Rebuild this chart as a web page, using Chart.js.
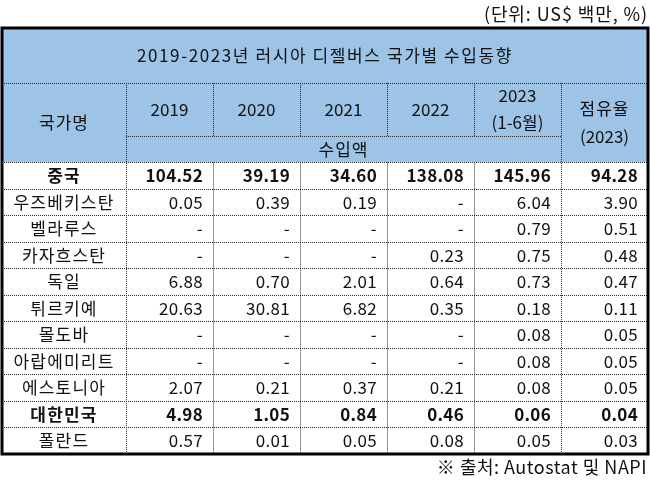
<!DOCTYPE html>
<html>
<head>
<meta charset="utf-8">
<script src="https://cdn.jsdelivr.net/npm/chart.js@4"></script>
<style>
  html, body { margin: 0; padding: 0; background: #fff; }
  #wrap { width: 650px; height: 485px; }
</style>
</head>
<body>
<div id="wrap"><canvas id="tbl"></canvas></div>
<script>
var tableTitle = "2019-2023년 러시아 디젤버스 국가별 수입동향";
var unitText = "(단위: US$ 백만, %)";
var sourceText = "※ 출처: Autostat 및 NAPI";
var nameHeader = "국가명";
var yearHeaders = [["2019"], ["2020"], ["2021"], ["2022"], ["2023", "(1-6월)"]];
var amountHeader = "수입액";
var shareHeader = ["점유율", "(2023)"];

var countries = ["중국", "우즈베키스탄", "벨라루스", "카자흐스탄", "독일", "튀르키예",
  "몰도바", "아랍에미리트", "에스토니아", "대한민국", "폴란드"];
var imp2019 = [104.52, 0.05, null, null, 6.88, 20.63, null, null, 2.07, 4.98, 0.57];
var imp2020 = [39.19, 0.39, null, null, 0.70, 30.81, null, null, 0.21, 1.05, 0.01];
var imp2021 = [34.60, 0.19, null, null, 2.01, 6.82, null, null, 0.37, 0.84, 0.05];
var imp2022 = [138.08, null, null, 0.23, 0.64, 0.35, null, null, 0.21, 0.46, 0.08];
var imp2023 = [145.96, 6.04, 0.79, 0.75, 0.73, 0.18, 0.08, 0.08, 0.08, 0.06, 0.05];
var share2023 = [94.28, 3.90, 0.51, 0.48, 0.47, 0.11, 0.05, 0.05, 0.05, 0.04, 0.03];
var boldRows = ["중국", "대한민국"];

// layout in scale units (one unit = one value column / one body row)
var NAME_COL = 1.425;
var TITLE_H = 2.07;
var HEAD_H = 2;
var SUB_H = 1;
var BODY_TOP = TITLE_H + HEAD_H + SUB_H;

var FONT = '"Noto Sans CJK KR", "Noto Sans", sans-serif';
var HEAD_BG = "#9dc3e6";
var INK = "#111";

function colLeft(c) { return c === 0 ? 0 : NAME_COL + c - 1; }
function colRight(c) { return NAME_COL + c; }

function fmt(v) { return v === null ? "-" : v.toFixed(2); }

var valueCols = [imp2019, imp2020, imp2021, imp2022, imp2023, share2023];

function cellPoints(c) {
  return countries.map(function (_n, i) {
    return { x: (colLeft(c) + colRight(c)) / 2, y: BODY_TOP + i + 0.5 };
  });
}

var datasets = [{ label: nameHeader, data: cellPoints(0), texts: countries, align: "center" }];
valueCols.forEach(function (arr, k) {
  datasets.push({ label: "col" + (k + 1), data: cellPoints(k + 1), texts: arr.map(fmt), align: "right", col: k + 1 });
});
datasets.forEach(function (d) { d.pointRadius = 0; d.pointHoverRadius = 0; });

function hLine(ctx, x, y, x0, x1, v) {
  var py = Math.round(y.getPixelForValue(v)) + 0.5;
  ctx.beginPath();
  ctx.moveTo(x.getPixelForValue(x0), py);
  ctx.lineTo(x.getPixelForValue(x1), py);
  ctx.stroke();
}
function vLine(ctx, x, y, v, y0, y1) {
  var px = Math.round(x.getPixelForValue(v)) + 0.5;
  ctx.beginPath();
  ctx.moveTo(px, y.getPixelForValue(y0));
  ctx.lineTo(px, y.getPixelForValue(y1));
  ctx.stroke();
}

var tablePlugin = {
  id: "tableCells",
  beforeDatasetsDraw: function (chart) {
    var ctx = chart.ctx, a = chart.chartArea, x = chart.scales.x, y = chart.scales.y;
    var yEnd = BODY_TOP + countries.length;
    var bodyPx = y.getPixelForValue(BODY_TOP);
    ctx.save();
    ctx.fillStyle = HEAD_BG;
    ctx.fillRect(a.left, a.top, a.width, bodyPx - a.top);
    ctx.fillStyle = "#fff";
    ctx.fillRect(a.left, bodyPx, a.width, a.bottom - bodyPx);

    ctx.strokeStyle = "#2a2a2a";
    ctx.lineWidth = 1;
    ctx.setLineDash([1, 1]);
    var xMax = colRight(6);
    hLine(ctx, x, y, 0, xMax, TITLE_H);
    hLine(ctx, x, y, colLeft(1), colRight(5), TITLE_H + HEAD_H);
    for (var r = 0; r < countries.length; r++) hLine(ctx, x, y, 0, xMax, BODY_TOP + r);
    vLine(ctx, x, y, colRight(0), TITLE_H, yEnd);
    vLine(ctx, x, y, colRight(5), TITLE_H, yEnd);
    for (var c = 1; c < 5; c++) {
      vLine(ctx, x, y, colRight(c), TITLE_H, TITLE_H + HEAD_H);
      vLine(ctx, x, y, colRight(c), BODY_TOP, yEnd);
    }
    ctx.restore();
  },
  afterDatasetsDraw: function (chart) {
    var ctx = chart.ctx, a = chart.chartArea, x = chart.scales.x, y = chart.scales.y;
    ctx.save();
    ctx.fillStyle = INK;
    ctx.textBaseline = "middle";
    ctx.textAlign = "center";

    // title row
    ctx.font = "normal 17px " + FONT;
    ctx.letterSpacing = "1.6px";
    ctx.fillText(tableTitle, x.getPixelForValue(colRight(6) / 2), y.getPixelForValue(TITLE_H / 2));

    // header rows
    var midHead = TITLE_H + (HEAD_H + SUB_H) / 2;
    ctx.letterSpacing = "1px";
    ctx.fillText(nameHeader, x.getPixelForValue(colRight(0) / 2), y.getPixelForValue(midHead));
    ctx.letterSpacing = "0px";
    yearHeaders.forEach(function (lines, k) {
      var cx = x.getPixelForValue((colLeft(k + 1) + colRight(k + 1)) / 2);
      var cy = y.getPixelForValue(TITLE_H + HEAD_H / 2);
      lines.forEach(function (t, j) {
        ctx.fillText(t, cx, cy + (j - (lines.length - 1) / 2) * 27);
      });
    });
    ctx.letterSpacing = "1px";
    ctx.fillText(amountHeader, x.getPixelForValue((colLeft(1) + colRight(5)) / 2), y.getPixelForValue(TITLE_H + HEAD_H + SUB_H / 2));
    var sx = x.getPixelForValue((colLeft(6) + colRight(6)) / 2);
    shareHeader.forEach(function (t, j) {
      ctx.letterSpacing = j === 0 ? "1px" : "0px";
      ctx.fillText(t, sx, y.getPixelForValue(midHead) + (j - 0.5) * 28);
    });

    // body cells from dataset points
    chart.data.datasets.forEach(function (ds, di) {
      var meta = chart.getDatasetMeta(di);
      meta.data.forEach(function (pt, i) {
        var bold = boldRows.indexOf(countries[i]) >= 0;
        ctx.font = (bold ? "bold " : "normal ") + "17px " + FONT;
        if (ds.align === "center") {
          ctx.textAlign = "center";
          ctx.letterSpacing = "1.2px";
          ctx.fillText(ds.texts[i], pt.x, pt.y);
        } else {
          ctx.textAlign = "right";
          ctx.letterSpacing = "0.3px";
          ctx.fillText(ds.texts[i], x.getPixelForValue(colRight(ds.col)) - 10, pt.y);
        }
      });
    });

    // thick outer frame
    ctx.setLineDash([]);
    ctx.strokeStyle = "#000";
    ctx.lineWidth = 3;
    ctx.strokeRect(a.left, a.top, a.width, a.height);

    // unit note above and source note below the table
    ctx.textAlign = "right";
    ctx.font = "normal 18px " + FONT;
    ctx.letterSpacing = "0.9px";
    ctx.fillText(unitText, a.right, a.top - 14);
    ctx.letterSpacing = "0.5px";
    ctx.fillText(sourceText, a.right - 1, a.bottom + 13);
    ctx.restore();
  }
};

new Chart(document.getElementById("tbl"), {
  type: "scatter",
  data: { datasets: datasets },
  options: {
    responsive: true,
    maintainAspectRatio: false,
    animation: false,
    events: [],
    layout: { padding: { left: 2, right: 2, top: 28, bottom: 31 } },
    scales: {
      x: { type: "linear", min: 0, max: colRight(6), display: false },
      y: { type: "linear", min: 0, max: BODY_TOP + countries.length, reverse: true, display: false }
    },
    plugins: {
      legend: { display: false },
      tooltip: { enabled: false },
      title: { display: false },
      subtitle: { display: false }
    }
  },
  plugins: [tablePlugin]
});
</script>
</body>
</html>
